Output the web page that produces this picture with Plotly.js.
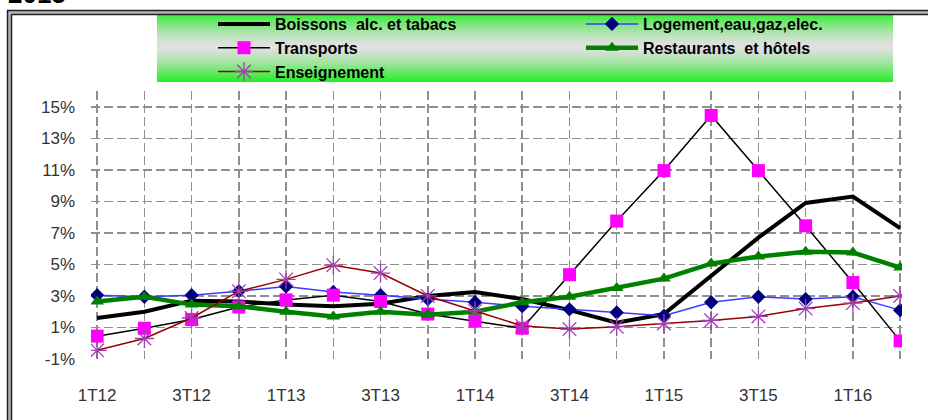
<!DOCTYPE html>
<html><head><meta charset="utf-8">
<script src="https://cdn.plot.ly/plotly-3.0.1.min.js"></script>
<style>html,body{margin:0;padding:0;background:#fff;overflow:hidden}#chart{width:928px;height:420px}</style>
</head><body><div id="chart"></div>
<script>
// ---- data ----
const quarters = ['1T12','2T12','3T12','4T12','1T13','2T13','3T13','4T13','1T14','2T14','3T14','4T14','1T15','2T15','3T15','4T15','1T16','2T16'];
const seriesNames = ['Boissons\u00a0 alc. et tabacs','Logement,eau,gaz,elec.','Transports','Restaurants\u00a0 et hôtels','Enseignement'];
const boissons     = [1.6, 2.0, 2.7, 2.65, 2.45, 2.35, 2.5, 3.0, 3.25, 2.8, 2.1, 1.3, 1.85, 4.3, 6.7, 8.9, 9.3, 7.3];
const logement     = [3.05, 2.95, 3.05, 3.3, 3.6, 3.25, 3.05, 2.8, 2.6, 2.35, 2.15, 1.95, 1.75, 2.6, 2.95, 2.8, 2.95, 2.1];
const transports   = [0.45, 0.95, 1.5, 2.3, 2.75, 3.05, 2.65, 1.85, 1.4, 0.95, 4.35, 7.75, 10.95, 14.45, 10.95, 7.45, 3.85, 0.15];
const restaurants  = [2.65, 2.95, 2.45, 2.35, 2.0, 1.7, 2.0, 1.8, 2.0, 2.6, 2.95, 3.5, 4.1, 5.05, 5.5, 5.8, 5.75, 4.8];
const enseignement = [-0.45, 0.3, 1.6, 3.3, 4.05, 4.95, 4.45, 3.0, 2.05, 1.1, 0.9, 1.05, 1.25, 1.45, 1.7, 2.2, 2.55, 3.0];
const yTickValues  = [-1, 1, 3, 5, 7, 9, 11, 13, 15];
const yTickLabels  = yTickValues.map(v => v + '%');
const xTickLabels  = quarters.map((q, i) => (i % 2 === 0 ? q : ''));
const headerText   = '2015';

// ---- geometry helpers (pixels -> paper) ----
const W = 928, H = 420;
const M = {l: 91, r: 26, t: 91, b: 61, autoexpand: false};
const PW = W - M.l - M.r, PH = H - M.t - M.b;
const px2x = px => (px - M.l) / PW;
const py2y = py => (H - M.b - py) / PH;

const tickFont = {family: 'Liberation Sans, Arial, sans-serif', size: 17, color: '#333'};
const legFont = {family: 'Liberation Sans, Arial, sans-serif', size: 16, color: '#000', weight: 'bold'};
const ITEMW = 52;

const traces = [
  {name: seriesNames[0], x: quarters, y: boissons, mode: 'lines',
   line: {color: '#000000', width: 4}, legend: 'legend'},
  {name: seriesNames[1], x: quarters, y: logement, mode: 'lines+markers',
   line: {color: '#3b3bff', width: 1.5},
   marker: {symbol: 'diamond', size: 11, color: '#000080'}, legend: 'legend2'},
  {name: seriesNames[2], x: quarters, y: transports, mode: 'lines+markers',
   line: {color: '#000000', width: 1.5},
   marker: {symbol: 'square', size: 13, color: '#ff00ff'}, legend: 'legend'},
  {name: seriesNames[3], x: quarters, y: restaurants, mode: 'lines+markers',
   line: {color: '#008000', width: 4.5},
   marker: {symbol: 'triangle-up', size: 12, color: '#008000'}, legend: 'legend2'},
  {name: seriesNames[4], x: quarters, y: enseignement, mode: 'lines+markers',
   line: {color: '#990000', width: 1.5},
   marker: {symbol: 'asterisk-open', size: 16, color: '#a040b0', line: {color: '#a040b0', width: 1.3}}, legend: 'legend'}
];

// ---- decorative shapes: legend gradient box + chart frame ----
const shapes = [];
const boxL = 157, boxR = 893, boxT = 11, boxB = 82;
const green = [30, 238, 30], grey = [224, 224, 224];
for (let py = boxT; py < boxB; py++) {
  const t = (py + 0.5 - boxT) / (boxB - boxT);
  const d = Math.abs(t - 0.5) * 2;
  const m = Math.pow(d, 1.4);
  const c = green.map((g, k) => Math.round(grey[k] * (1 - m) + g * m));
  shapes.push({type: 'rect', xref: 'paper', yref: 'paper', layer: 'below',
    x0: px2x(boxL), x1: px2x(boxR), y0: py2y(py + 1), y1: py2y(py),
    fillcolor: `rgb(${c[0]},${c[1]},${c[2]})`, line: {width: 0}});
}
// frame bands
shapes.push({type: 'rect', xref: 'paper', yref: 'paper', layer: 'above',
  x0: px2x(7), x1: px2x(940), y0: py2y(15), y1: py2y(10), fillcolor: '#b5b5b5', line: {width: 0}});
shapes.push({type: 'rect', xref: 'paper', yref: 'paper', layer: 'above',
  x0: px2x(7), x1: px2x(12), y0: py2y(430), y1: py2y(10), fillcolor: '#b5b5b5', line: {width: 0}});
const frameLine = {color: '#222', width: 1.5};
shapes.push({type: 'line', xref: 'paper', yref: 'paper', layer: 'above', x0: px2x(7), x1: px2x(940), y0: py2y(10.5), y1: py2y(10.5), line: frameLine});
shapes.push({type: 'line', xref: 'paper', yref: 'paper', layer: 'above', x0: px2x(11.5), x1: px2x(940), y0: py2y(14.5), y1: py2y(14.5), line: frameLine});
shapes.push({type: 'line', xref: 'paper', yref: 'paper', layer: 'above', x0: px2x(7.5), x1: px2x(7.5), y0: py2y(10), y1: py2y(430), line: frameLine});
shapes.push({type: 'line', xref: 'paper', yref: 'paper', layer: 'above', x0: px2x(11.5), x1: px2x(11.5), y0: py2y(14.5), y1: py2y(430), line: frameLine});

const layout = {
  width: W, height: H, margin: M,
  paper_bgcolor: '#ffffff', plot_bgcolor: '#ffffff',
  showlegend: true,
  xaxis: {type: 'category', range: [-0.13, 17.04], tickmode: 'array', tickvals: quarters, ticktext: xTickLabels,
          showgrid: true, gridcolor: '#8f8f8f', gridwidth: 1.5, griddash: '9px,4px', automargin: false, tickangle: 0,
          showline: false, zeroline: false, ticks: '', tickfont: tickFont, ticklabelstandoff: 24, fixedrange: true},
  yaxis: {range: [-1, 16], tickmode: 'array', tickvals: yTickValues, ticktext: yTickLabels, automargin: false,
          showgrid: true, gridcolor: '#8f8f8f', gridwidth: 1.5, griddash: '9px,4px',
          showline: false, zeroline: false, ticks: '', tickfont: tickFont, ticklabelstandoff: 15, fixedrange: true},
  legend: {xref: 'container', yref: 'container', x: (275 - ITEMW - 10) / W, y: 1 - 7 / H, xanchor: 'left', yanchor: 'top',
           orientation: 'v', bgcolor: 'rgba(0,0,0,0)', borderwidth: 0, font: legFont, traceorder: 'normal', itemwidth: ITEMW},
  legend2: {xref: 'container', yref: 'container', x: (643 - ITEMW - 10) / W, y: 1 - 7 / H, xanchor: 'left', yanchor: 'top',
           orientation: 'v', bgcolor: 'rgba(0,0,0,0)', borderwidth: 0, font: legFont, traceorder: 'normal', itemwidth: ITEMW},
  shapes: shapes,
  annotations: [{text: headerText, xref: 'paper', yref: 'paper', x: px2x(6), y: py2y(11),
                 xanchor: 'left', yanchor: 'bottom', showarrow: false,
                 font: {family: 'Liberation Sans, Arial, sans-serif', size: 26, color: '#000', weight: 'bold'}}]
};

Plotly.newPlot('chart', traces, layout, {displayModeBar: false, staticPlot: true});
</script>
</body></html>
